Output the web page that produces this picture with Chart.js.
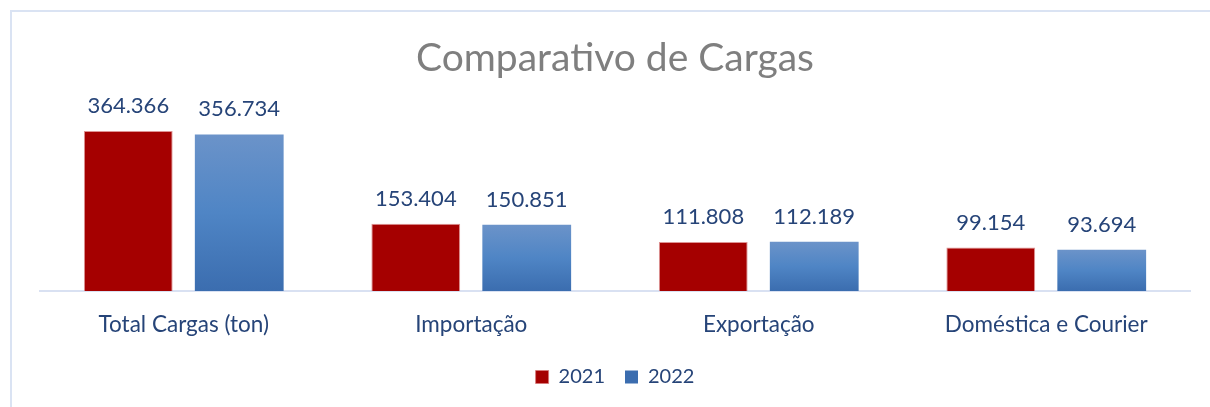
<!DOCTYPE html>
<html lang="pt-BR">
<head>
<meta charset="utf-8">
<script src="https://cdn.jsdelivr.net/npm/chart.js@4.4.1/dist/chart.umd.min.js"></script>
<style>
  html, body { margin: 0; padding: 0; background: #fff; overflow: hidden; }
  #wrap { position: relative; width: 1210px; height: 407px; }
  #frame {
    position: absolute; left: 10px; top: 10px; width: 1300px; height: 500px;
    border: 2px solid #dae3f3; box-sizing: border-box;
  }
  #chart { position: absolute; left: 0; top: 0; }
</style>
</head>
<body>
<div id="wrap">
  <div id="frame"></div>
  <canvas id="chart" width="1210" height="407"></canvas>
</div>
<script>
const categories = ["Total Cargas (ton)", "Importação", "Exportação", "Doméstica e Courier"];
const seriesNames = ["2021", "2022"];
const values2021 = [364366, 153404, 111808, 99154];
const values2022 = [356734, 150851, 112189, 93694];

const TEXT_BLUE = "#264478";
const FONT = "Lato, 'Open Sans', sans-serif";
const RED = "#a50000";
const Y_MAX = 458300;

const numberFormat = new Intl.NumberFormat("pt-BR");

function blueFill(context) {
  const chart = context.chart;
  if (context.type !== "data" || !chart.chartArea) {
    return "#5384c4";
  }
  const yScale = chart.scales.y;
  const top = yScale.getPixelForValue(context.raw);
  const bottom = yScale.getPixelForValue(0);
  const gradient = chart.ctx.createLinearGradient(0, top, 0, bottom);
  gradient.addColorStop(0, "#6b93c9");
  gradient.addColorStop(0.5, "#4f85c5");
  gradient.addColorStop(1, "#3b6daf");
  return gradient;
}

// draws the value above each bar
const valueLabels = {
  id: "valueLabels",
  afterDatasetsDraw(chart) {
    const { ctx } = chart;
    ctx.save();
    ctx.font = `22px ${FONT}`;
    ctx.fillStyle = TEXT_BLUE;
    ctx.textAlign = "center";
    ctx.textBaseline = "middle";
    chart.data.datasets.forEach((dataset, i) => {
      chart.getDatasetMeta(i).data.forEach((bar, index) => {
        ctx.fillText(numberFormat.format(dataset.data[index]), bar.x, bar.y - 25);
      });
    });
    ctx.restore();
  }
};

new Chart(document.querySelector("#chart"), {
  type: "bar",
  plugins: [valueLabels],
  data: {
    labels: categories,
    datasets: [
      {
        label: seriesNames[0],
        data: values2021,
        backgroundColor: RED,
        borderColor: "rgba(214, 120, 120, 0.8)",
        borderWidth: 1,
        borderSkipped: "bottom",
        barPercentage: 0.8,
        categoryPercentage: 0.772
      },
      {
        label: seriesNames[1],
        data: values2022,
        backgroundColor: blueFill,
        borderWidth: 0,
        barPercentage: 0.8,
        categoryPercentage: 0.772
      }
    ]
  },
  options: {
    responsive: false,
    animation: false,
    layout: {
      padding: { top: 20, left: 40, right: 20, bottom: 10 }
    },
    plugins: {
      title: {
        display: true,
        text: "Comparativo de Cargas",
        color: "#7f7f7f",
        font: { family: FONT, size: 39, weight: "normal", lineHeight: 1.2 },
        padding: { top: 15, bottom: 8 }
      },
      legend: {
        position: "bottom",
        labels: {
          color: TEXT_BLUE,
          font: { family: FONT, size: 20 },
          boxWidth: 13,
          boxHeight: 13,
          padding: 20
        }
      },
      tooltip: { enabled: false }
    },
    scales: {
      x: {
        grid: { display: false, drawTicks: false },
        border: { display: true, color: "#d9e1f2", width: 2 },
        ticks: {
          color: TEXT_BLUE,
          font: { family: FONT, size: 22.5 },
          padding: 20
        },
        afterFit(scale) {
          scale.height = 56;
        }
      },
      y: {
        display: false,
        min: 0,
        max: Y_MAX
      }
    }
  }
});
</script>
</body>
</html>
